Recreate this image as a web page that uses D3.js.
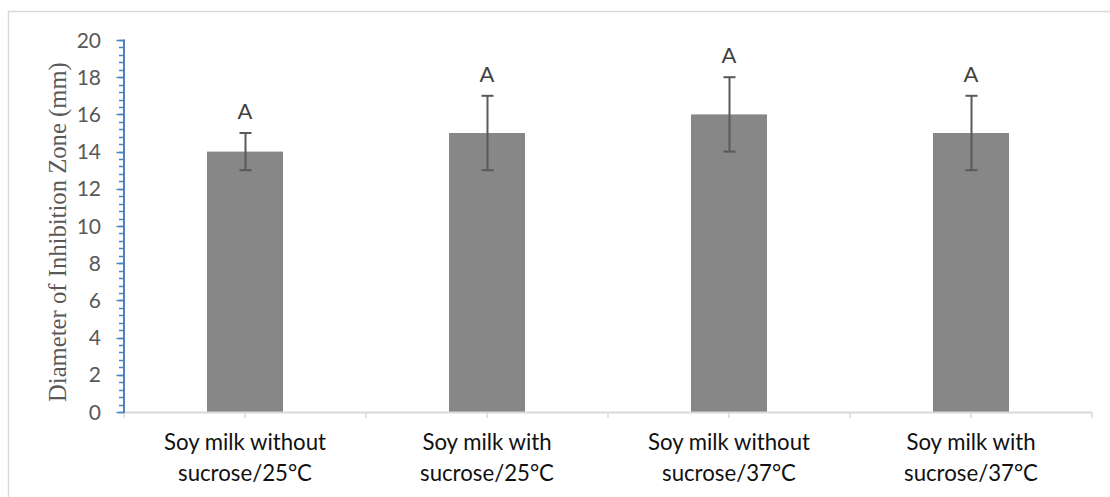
<!DOCTYPE html>
<html>
<head>
<meta charset="utf-8">
<script src="https://cdn.jsdelivr.net/npm/d3@7"></script>
<style>
  html, body { margin: 0; padding: 0; background: #fff; }
  svg { display: block; }
</style>
</head>
<body>
<svg id="chart" width="1110" height="497"></svg>
<script>
const categories = [
  ["Soy milk without", "sucrose/25°C"],
  ["Soy milk with", "sucrose/25°C"],
  ["Soy milk without", "sucrose/37°C"],
  ["Soy milk with", "sucrose/37°C"]
];
const means = [14, 15, 16, 15];
const errors = [1, 2, 2, 2];
const letters = ["A", "A", "A", "A"];
const yTicks = [0, 2, 4, 6, 8, 10, 12, 14, 16, 18, 20];
const yTitle = "Diameter of Inhibition Zone (mm)";

const svg = d3.select("#chart");
const W = 1110, H = 497;
const plot = { left: 124, right: 1092, top: 40, bottom: 412 };
const sansFont = "Lato, 'Open Sans', sans-serif";

// outer chart border
svg.append("rect")
  .attr("x", 8.5).attr("y", 11.5)
  .attr("width", W + 20).attr("height", H + 20)
  .attr("fill", "none").attr("stroke", "#d9d9d9").attr("stroke-width", 1.5);

const idx = categories.map((d, i) => i);
const x = d3.scaleBand().domain(idx).range([plot.left, plot.right])
  .paddingInner(0.686).paddingOuter(0.343);
const step = x.step();
const y = d3.scaleLinear().domain([0, 20]).range([plot.bottom, plot.top]);

// bars
svg.append("g").selectAll("rect").data(means).join("rect")
  .attr("x", (d, i) => x(i))
  .attr("y", d => y(d))
  .attr("width", x.bandwidth())
  .attr("height", d => y(0) - y(d))
  .attr("fill", "#878787");

// x axis line (gray) with ticks at boundaries and centres
const xAxisG = svg.append("g");
xAxisG.append("line")
  .attr("x1", plot.left).attr("x2", plot.right)
  .attr("y1", plot.bottom + 0.5).attr("y2", plot.bottom + 0.5)
  .attr("stroke", "#d9d9d9").attr("stroke-width", 2);
const halfTicks = d3.range(0, categories.length * 2 + 1).map(k => plot.left + k * step / 2);
xAxisG.selectAll("line.tk").data(halfTicks).join("line")
  .attr("class", "tk")
  .attr("x1", d => d).attr("x2", d => d)
  .attr("y1", plot.bottom).attr("y2", plot.bottom + 6)
  .attr("stroke", "#d9d9d9").attr("stroke-width", 1.5);

// category labels
const catG = svg.append("g").selectAll("text").data(categories).join("text")
  .attr("x", (d, i) => x(i) + x.bandwidth() / 2)
  .attr("y", 450)
  .attr("text-anchor", "middle")
  .attr("font-family", sansFont)
  .attr("font-size", 22.2)
  .attr("fill", "#111");
catG.each(function(d) {
  const t = d3.select(this);
  const cx = t.attr("x");
  d.forEach((line, j) => {
    t.append("tspan").attr("x", cx).attr("dy", j === 0 ? 0 : 31).text(line);
  });
});

// y axis (blue) with minor ticks
const yAxisG = svg.append("g");
const minorTicks = d3.range(0, 51).map(k => k * 0.4);
yAxisG.selectAll("line.minor").data(minorTicks).join("line")
  .attr("class", "minor")
  .attr("x1", plot.left - 5).attr("x2", plot.left)
  .attr("y1", d => Math.round(y(d)) + 0.5).attr("y2", d => Math.round(y(d)) + 0.5)
  .attr("stroke", "#4f81bd").attr("stroke-width", 1.5);
yAxisG.selectAll("line.major").data(yTicks).join("line")
  .attr("class", "major")
  .attr("x1", plot.left - 7.5).attr("x2", plot.left)
  .attr("y1", d => Math.round(y(d)) + 0.5).attr("y2", d => Math.round(y(d)) + 0.5)
  .attr("stroke", "#4f81bd").attr("stroke-width", 1.5);
yAxisG.append("line")
  .attr("x1", plot.left).attr("x2", plot.left)
  .attr("y1", plot.top - 0.5).attr("y2", plot.bottom + 1)
  .attr("stroke", "#4f81bd").attr("stroke-width", 2);
yAxisG.selectAll("text").data(yTicks).join("text")
  .attr("x", 101)
  .attr("y", d => y(d))
  .attr("dy", "0.36em")
  .attr("text-anchor", "end")
  .attr("font-family", sansFont)
  .attr("font-size", 21)
  .attr("fill", "#595959")
  .text(d => d);

// y title: anchored at its start (bottom), fitted to the reference span
const titleStart = 402, titleEnd = 62;
const title = svg.append("text")
  .attr("transform", `translate(66, ${titleStart}) rotate(-90)`)
  .attr("text-anchor", "start")
  .attr("font-family", "'Liberation Serif', 'Times New Roman', serif")
  .attr("font-size", 22)
  .attr("fill", "#595959")
  .text(yTitle);
const len = title.node().getComputedTextLength();
title.attr("font-size", 22 * (titleStart - titleEnd) / len);

// error bars
const errG = svg.append("g");
const capW = 12;
means.forEach((m, i) => {
  const cx = Math.round(x(i) + x.bandwidth() / 2) + 0.5;
  const g = errG.append("g").attr("stroke", "#595959").attr("stroke-width", 2);
  g.append("line").attr("x1", cx).attr("x2", cx)
    .attr("y1", y(m + errors[i])).attr("y2", y(m - errors[i]));
  g.append("line").attr("x1", cx - capW / 2).attr("x2", cx + capW / 2)
    .attr("y1", y(m + errors[i])).attr("y2", y(m + errors[i]));
  g.append("line").attr("x1", cx - capW / 2).attr("x2", cx + capW / 2)
    .attr("y1", y(m - errors[i])).attr("y2", y(m - errors[i]));
});

// significance letters
svg.append("g").selectAll("text").data(letters).join("text")
  .attr("x", (d, i) => x(i) + x.bandwidth() / 2)
  .attr("y", (d, i) => y(means[i] + errors[i]) - 14)
  .attr("text-anchor", "middle")
  .attr("font-family", sansFont)
  .attr("font-size", 22)
  .attr("fill", "#404040")
  .text(d => d);
</script>
</body>
</html>
